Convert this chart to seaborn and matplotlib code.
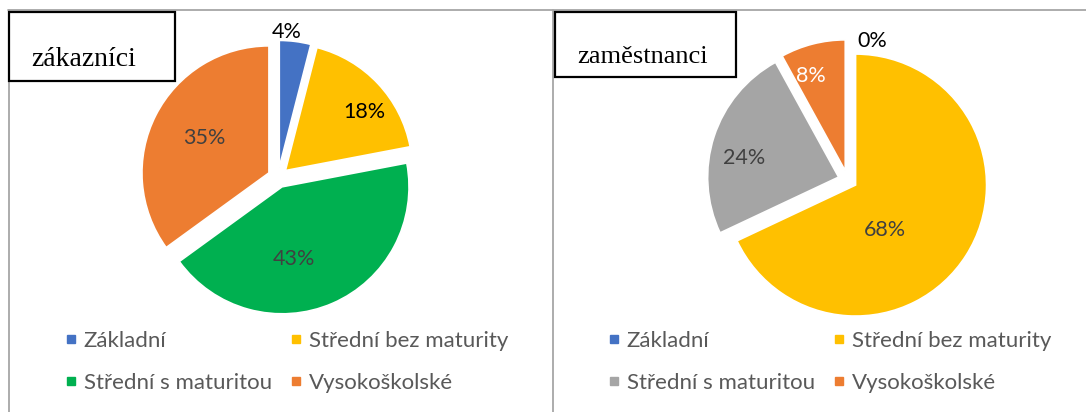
import numpy as np
import matplotlib
matplotlib.use('Agg')
import matplotlib.pyplot as plt
import seaborn as sns
from matplotlib.lines import Line2D
from matplotlib.patches import Rectangle

# Data (percentages)
categories = ['Základní', 'Střední bez maturity', 'Střední s maturitou', 'Vysokoškolské']
zakaznici = [4, 18, 43, 35]
zamestnanci = [0, 68, 24, 8]
titles = ['zákazníci', 'zaměstnanci']

# Office-like colours
colors_left = ['#4472C4', '#FFC000', '#00B050', '#ED7D31']
colors_right = ['#4472C4', '#FFC000', '#A5A5A5', '#ED7D31']

sns.set_theme(style='white')
plt.rcParams['font.family'] = ['Lato', 'DejaVu Sans']

W, H = 1086, 412
fig = plt.figure(figsize=(W / 100, H / 100), dpi=100)

# background layer in pixel coordinates: frames, title boxes
bg = fig.add_axes([0, 0, 1, 1])
bg.set_xlim(0, W)
bg.set_ylim(H, 0)
bg.axis('off')
frame_col = '#a6a6a6'
bg.plot([8, W], [10, 10], color=frame_col, lw=1.3)
bg.plot([9, 9], [10, H], color=frame_col, lw=1.3)
bg.plot([553, 553], [10, H], color=frame_col, lw=1.3)

bg.add_patch(Rectangle((9, 12), 166, 69, facecolor='white', edgecolor='black', lw=1.6, zorder=3))
bg.add_patch(Rectangle((555, 12), 181, 65, facecolor='white', edgecolor='black', lw=1.6, zorder=3))
bg.text(31, 66, titles[0], family='Liberation Serif', fontsize=20, color='black', va='baseline', zorder=4)
bg.text(577, 63, titles[1], family='Liberation Serif', fontsize=19, color='black', va='baseline', zorder=4)


def draw_pie(values, colors, center, radius, explode, label_dist, label_shift, label_colors, legend_xy):
    size = 2.6 * radius
    ax = fig.add_axes([(center[0] - size / 2) / W, (H - center[1] - size / 2) / H, size / W, size / H])
    wedges, texts, autotexts = ax.pie(
        values, colors=colors, startangle=90, counterclock=False,
        explode=[explode] * len(values),
        autopct=lambda p: f'{p:.0f}%',
        wedgeprops=dict(edgecolor='white', linewidth=1.2),
        textprops=dict(fontsize=15.5))
    ax.set_xlim(-1.3, 1.3)
    ax.set_ylim(-1.3, 1.3)
    # place percentage labels roughly like Excel's "best fit"
    for w, t, d, s, c in zip(wedges, autotexts, label_dist, label_shift, label_colors):
        mid = np.deg2rad((w.theta1 + w.theta2) / 2 + s)
        t.set_position((w.center[0] + d * w.r * np.cos(mid), w.center[1] + d * w.r * np.sin(mid)))
        t.set_color(c)
        t.set_ha('center')
        t.set_va('center')

    order = [0, 2, 1, 3]
    handles = [Line2D([], [], marker='s', ls='', color=colors[i], markersize=5.5) for i in order]
    labels = [categories[i] for i in order]
    fig.legend(handles, labels, ncol=2, loc='upper left', bbox_to_anchor=legend_xy,
               bbox_transform=bg.transData, frameon=False, borderpad=0, borderaxespad=0,
               handlelength=0.38, handletextpad=0.38, columnspacing=0.9, labelspacing=1.0,
               fontsize=16, labelcolor='#595959')


draw_pie(zakaznici, colors_left, (278, 177.5), 127, 0.08,
         [1.07, 0.77, 0.58, 0.58], [4, -6.7, -14, -1.4],
         ['black', 'black', '#404040', '#404040'], (67, 331))
draw_pie(zamestnanci, colors_right, (847.6, 180), 131, 0.072,
         [1.01, 0.41, 0.74, 0.77], [-10.6, -25, 6.5, 5.4],
         ['black', '#404040', '#404040', 'white'], (610, 331))

fig.savefig('out.png', dpi=100)
